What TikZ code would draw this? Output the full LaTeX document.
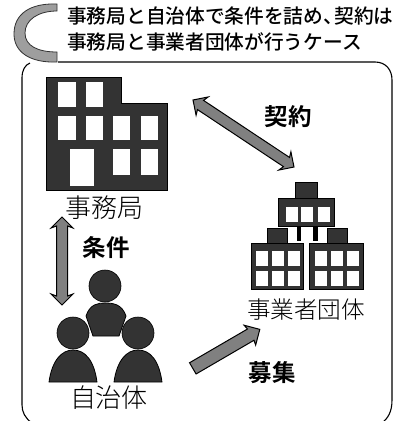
\documentclass[tikz,border=0pt]{standalone}
\usepackage{fontspec}
\usetikzlibrary{calc,shapes.arrows}
\newfontfamily\jpmed{Noto Sans CJK JP Medium}
\newfontfamily\jplight{Noto Sans CJK JP Light}
\newfontfamily\jpbold{Noto Sans CJK JP Bold}
\definecolor{darkfill}{gray}{0.2}
\definecolor{midfill}{gray}{0.5}
\definecolor{capfill}{gray}{0.62}
\tikzset{
  x=1pt,y=-1pt,
  titletext/.style={anchor=west,inner sep=0pt,font=\fontsize{19.7}{22}\selectfont\jpmed},
  nametext/.style={inner sep=0pt,font=\fontsize{#1}{#1}\selectfont\jplight},
  verbtext/.style={inner sep=0pt,font=\fontsize{23.5}{24}\selectfont\jpbold},
  solid mass/.style={fill=darkfill,draw=black,line width=.8pt},
  pane/.style={fill=white,draw=none},
  twoway/.style={double arrow,draw=black,fill=midfill,line width=1pt,inner sep=0pt,
    double arrow head extend=5.5pt,double arrow head indent=2pt},
  oneway/.style={single arrow,draw=black,fill=midfill,line width=1pt,inner sep=0pt,
    single arrow head extend=5pt,single arrow head indent=1pt},
}
\newcommand{\panes}[3]{\foreach \u in {#1}{\fill[pane] (\u,#2) rectangle (\u+#3,#2+15);}}
\begin{document}
\begin{tikzpicture}
\useasboundingbox (0,0) rectangle (398,421);
\fill[white] (0,0) rectangle (398,421);
% rounded frame
\draw[black,line width=1.1pt] (30,63) .. controls (25,65) and (22,70) .. (22,78) -- (22,405)
  .. controls (22,412) and (25,418) .. (32,423);
\draw[black,line width=1.1pt] (58,62) -- (375,62) .. controls (386,62) and (392,70) .. (392,80)
  -- (392,400) .. controls (392,412) and (388,418) .. (382,423);
% C-shaped title bracket
\path[fill=capfill,draw=black!80,line width=.8pt] (57,4) .. controls (30,3) and (14,14) .. (14,34)
  .. controls (14,52) and (30,63) .. (57,62) -- (57,52)
  .. controls (38,52) and (25,46) .. (25,33) .. controls (25,20) and (38,11) .. (57,11) -- cycle;
\node[titletext] (t1) at (67,16) {事務局と自治体で条件を詰め\hspace{0pt}、\hspace{-8.5pt}契約は};
\node[titletext] (t2) at (67,42) {事務局と事業者団体が行うケース};
% office building
\path[solid mass] (46,77) -- (121,77) -- (121,103) -- (167,103) -- (167,190) -- (46,190) -- cycle;
\foreach \u/\v/\w/\h in {58/82/18/25,86/82/17/25,58/116/18/24,86/116/17/24,113/116/17/24,141/116/17/24,
  113/149/17/26,141/149/17/26,70/149/24/37}{\fill[pane] (\u,\v) rectangle (\u+\w,\v+\h);}
\node[nametext=26] (office) at (104,208) {事務局};
% people
\fill[darkfill,draw=black,line width=.6pt] (105,286) circle (16);
\path[solid mass] (86,316) .. controls (90,304) and (98,303) .. (105,303) .. controls (113,303) and (122,304) .. (126,316)
  -- (119,336) -- (93,336) -- cycle;
\fill[darkfill,draw=black,line width=.6pt] (73,333) circle (16);
\fill[darkfill,draw=black,line width=.6pt] (138,333) circle (16);
\path[solid mass] (49,382) .. controls (52,360) and (62,350) .. (73,350) .. controls (85,350) and (94,360) .. (97,382) -- cycle;
\path[solid mass] (114,382) .. controls (117,360) and (127,350) .. (138,350) .. controls (150,350) and (159,360) .. (162,382) -- cycle;
\node[nametext=26] (people) at (109,398) {自治体};
% contractor group
\path[solid mass] (295,182) rectangle (317,198);
\path[solid mass] (278,198) rectangle (334,226);
\fill[black] (297,226) rectangle (301,241);
\fill[black] (313,226) rectangle (318,241);
\foreach \u in {286,301,318}{\fill[pane] (\u,207) rectangle (\u+11.5,222);}
\path[solid mass] (267,228) rectangle (287,243);
\path[solid mass] (251,243) rectangle (303,289);
\path[solid mass] (327,228) rectangle (347,243);
\path[solid mass] (309,243) rectangle (363,289);
\panes{256,272,288}{251}{12}
\panes{256,272,288}{271}{12}
\panes{315,331,347}{251}{12}
\panes{315,331,347}{271}{12}
\node[nametext=23.6] (group) at (306,310) {事業者団体};
% connector ends
\coordinate (contractA) at (193,100);
\coordinate (contractB) at (294,167);
\coordinate (termsA) at (62,217);
\coordinate (termsB) at (62,305);
\coordinate (recruitA) at (190,370);
\coordinate (recruitB) at (257,331);
\path let \p1=($(contractB)-(contractA)$),\n1={atan2(\y1,\x1)},\n2={veclen(\x1,\y1)} in
  node[twoway,rotate=\n1,minimum height=\n2] (contract) at ($(contractA)!.5!(contractB)$) {\rule{0pt}{10pt}};
\path let \p1=($(termsB)-(termsA)$),\n1={atan2(\y1,\x1)},\n2={veclen(\x1,\y1)} in
  node[twoway,rotate=\n1,minimum height=\n2] (terms) at ($(termsA)!.5!(termsB)$) {\rule{0pt}{10pt}};
\path let \p1=($(recruitB)-(recruitA)$),\n1={atan2(\y1,\x1)},\n2={veclen(\x1,\y1)} in
  node[oneway,rotate=\n1,minimum height=\n2] (recruit) at ($(recruitA)!.5!(recruitB)$) {\rule{0pt}{12pt}};
\node[verbtext] (lcontract) at (288,117) {契約};
\node[verbtext] (lterms) at (106,248) {条件};
\node[verbtext] (lrecruit) at (272,373) {募集};
\end{tikzpicture}
\end{document}
